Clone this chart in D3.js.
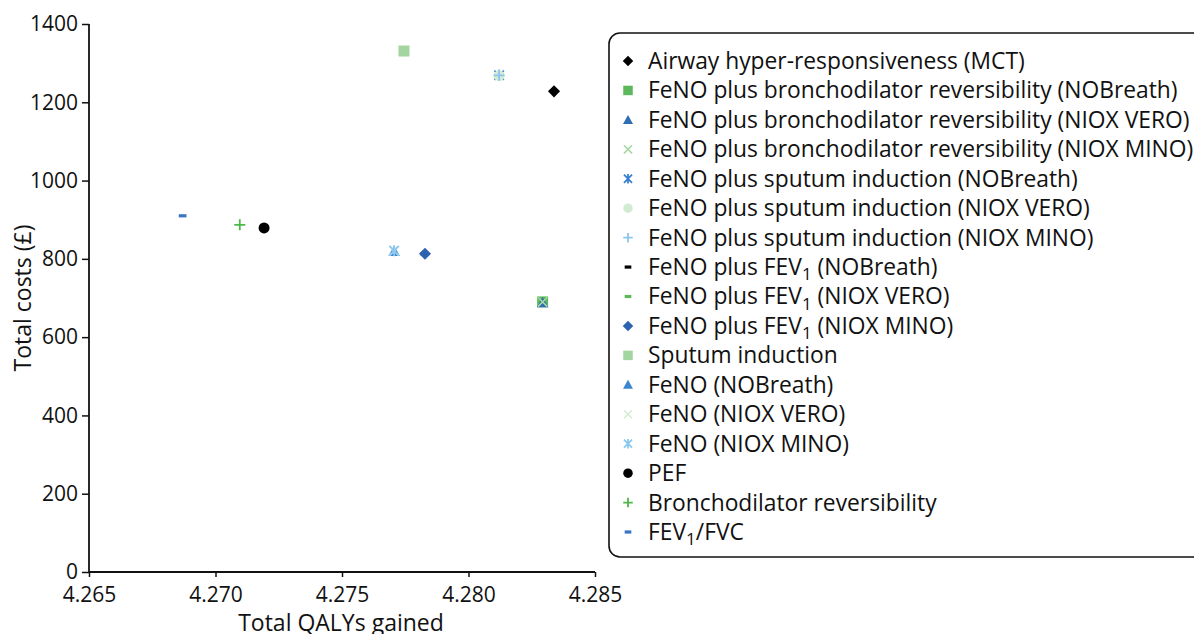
<!DOCTYPE html>
<html>
<head>
<meta charset="utf-8">
<script src="https://cdn.jsdelivr.net/npm/d3@7"></script>
<style>
  html, body { margin: 0; padding: 0; background: #fff; overflow: hidden; }
  svg { display: block; }
  text { font-family: "Open Sans", "Noto Sans", sans-serif; fill: #111; }
</style>
</head>
<body>
<svg id="chart" width="1194" height="634"></svg>
<script>
// Strategy names (a "|1|" segment is a subscript 1, as in FEV1)
const seriesNames = [
  "Airway hyper-responsiveness (MCT)",
  "FeNO plus bronchodilator reversibility (NOBreath)",
  "FeNO plus bronchodilator reversibility (NIOX VERO)",
  "FeNO plus bronchodilator reversibility (NIOX MINO)",
  "FeNO plus sputum induction (NOBreath)",
  "FeNO plus sputum induction (NIOX VERO)",
  "FeNO plus sputum induction (NIOX MINO)",
  "FeNO plus FEV|1| (NOBreath)",
  "FeNO plus FEV|1| (NIOX VERO)",
  "FeNO plus FEV|1| (NIOX MINO)",
  "Sputum induction",
  "FeNO (NOBreath)",
  "FeNO (NIOX VERO)",
  "FeNO (NIOX MINO)",
  "PEF",
  "Bronchodilator reversibility",
  "FEV|1|/FVC"
];

// Total QALYs gained per strategy
const qalys = [
  4.28338, 4.28293, 4.28293, 4.28293,
  4.28121, 4.28121, 4.28121,
  4.27828, 4.27824, 4.27828,
  4.27745,
  4.27706, 4.27706, 4.27706,
  4.27192, 4.27096, 4.26870
];

// Total costs (£) per strategy
const costs = [
  1228, 690, 688, 690,
  1269, 1268, 1269,
  813, 813, 813,
  1331,
  819, 820, 821,
  879, 887, 910
];

// Marker shape and colour per strategy
const markerShapes = [
  "diamond", "square", "triangle", "x",
  "asterisk", "circle", "plus",
  "dash", "dash", "diamond",
  "square",
  "triangle", "x", "asterisk",
  "circle", "plus", "dash"
];
const markerColors = [
  "#000000", "#5cb85a", "#2f6db5", "#a6d7a4",
  "#3a7fcf", "#d3ebd2", "#8cc5ee",
  "#000000", "#5cb85a", "#2d62b0",
  "#a3d5a0",
  "#3b86d2", "#d6edd5", "#8bc8f0",
  "#000000", "#4db848", "#3a74c4"
];

// Axis ticks
const xTicks = [4.265, 4.270, 4.275, 4.280, 4.285];
const yTicks = [0, 200, 400, 600, 800, 1000, 1200, 1400];

const svg = d3.select("#chart");
const plot = { left: 89, right: 595, top: 24, bottom: 572 };

const x = d3.scaleLinear().domain([4.265, 4.285]).range([plot.left, plot.right]);
const y = d3.scaleLinear().domain([0, 1400]).range([plot.bottom, plot.top]);

// Draws one marker centred at the origin of group g; s is the nominal size
function drawMarker(g, shape, color, s) {
  const h = s / 2;
  switch (shape) {
    case "diamond":
      g.append("path").attr("d", `M0,${-h * 1.1}L${h * 1.1},0L0,${h * 1.1}L${-h * 1.1},0Z`).attr("fill", color);
      break;
    case "square":
      g.append("rect").attr("x", -h).attr("y", -h).attr("width", s).attr("height", s).attr("fill", color);
      break;
    case "triangle":
      g.append("path").attr("d", `M0,${-h * 1.05}L${h * 1.05},${h * 0.85}L${-h * 1.05},${h * 0.85}Z`).attr("fill", color);
      break;
    case "circle":
      g.append("circle").attr("r", h).attr("fill", color);
      break;
    case "x":
      g.append("path").attr("d", `M${-h * 0.85},${-h * 0.85}L${h * 0.85},${h * 0.85}M${-h * 0.85},${h * 0.85}L${h * 0.85},${-h * 0.85}`)
        .attr("stroke", color).attr("stroke-width", 1.6).attr("fill", "none");
      break;
    case "asterisk":
      g.append("path").attr("d", `M${-h * 0.85},${-h * 0.85}L${h * 0.85},${h * 0.85}M${-h * 0.85},${h * 0.85}L${h * 0.85},${-h * 0.85}M0,${-h}L0,${h}`)
        .attr("stroke", color).attr("stroke-width", 1.8).attr("fill", "none");
      break;
    case "plus":
      g.append("path").attr("d", `M${-h},0L${h},0M0,${-h}L0,${h}`)
        .attr("stroke", color).attr("stroke-width", 1.8).attr("fill", "none");
      break;
    case "dash":
      g.append("rect").attr("x", -h * 0.7).attr("y", -1.6).attr("width", s * 0.7).attr("height", 3.2).attr("fill", color);
      break;
  }
}

// Writes a label, rendering "|1|" segments as subscripts
function writeLabel(textSel, label) {
  const parts = label.split("|");
  parts.forEach((p, i) => {
    if (!p) return;
    const t = textSel.append("tspan").text(p);
    if (i % 2 === 1) {
      t.attr("font-size", "0.75em").attr("dy", "0.3em");
    } else if (i > 0) {
      t.attr("dy", "-0.225em");
    }
  });
}

// Axes
const yAxis = svg.append("g")
  .attr("transform", `translate(${plot.left},0)`)
  .call(d3.axisLeft(y).tickValues(yTicks).tickSize(7).tickPadding(4).tickFormat(d3.format("d")));
const xAxis = svg.append("g")
  .attr("transform", `translate(0,${plot.bottom})`)
  .call(d3.axisBottom(x).tickValues(xTicks).tickSize(5).tickPadding(10).tickFormat(d3.format(".3f")));

[yAxis, xAxis].forEach(a => {
  a.select(".domain").attr("stroke", "#111").attr("stroke-width", 1.8);
  a.selectAll(".tick line").attr("stroke", "#111").attr("stroke-width", 1.5);
  a.selectAll(".tick text").attr("font-size", 21).attr("fill", "#111")
    .style("font-family", '"Open Sans", "Noto Sans", sans-serif');
});
// axis lines without end caps
yAxis.select(".domain").attr("d", `M0,${plot.top}V${plot.bottom}`);
xAxis.select(".domain").attr("d", `M${plot.left},0H${plot.right}`);

// Axis titles
svg.append("text")
  .attr("transform", `translate(31,298) rotate(-90)`)
  .attr("text-anchor", "middle")
  .attr("font-size", 23)
  .text("Total costs (£)");
svg.append("text")
  .attr("x", 341).attr("y", 631)
  .attr("text-anchor", "middle")
  .attr("font-size", 23)
  .text("Total QALYs gained");

// Points, drawn in series order
const points = svg.append("g");
seriesNames.forEach((name, i) => {
  const g = points.append("g").attr("transform", `translate(${x(qalys[i])},${y(costs[i])})`);
  drawMarker(g, markerShapes[i], markerColors[i], 11);
});

// Legend
const legend = svg.append("g");
legend.append("rect")
  .attr("x", 609).attr("y", 33).attr("width", 640).attr("height", 524)
  .attr("rx", 11).attr("ry", 11)
  .attr("fill", "#fff").attr("stroke", "#111").attr("stroke-width", 1.6);

const rowY = d3.scaleLinear().domain([0, seriesNames.length - 1]).range([61, 532]);
seriesNames.forEach((name, i) => {
  const row = legend.append("g").attr("transform", `translate(0,${rowY(i)})`);
  const m = row.append("g").attr("transform", "translate(628,0)");
  drawMarker(m, markerShapes[i], markerColors[i], 9.5);
  const t = row.append("text")
    .attr("x", 648).attr("y", 0).attr("dy", "0.35em")
    .attr("font-size", 22.8);
  writeLabel(t, name);
});
</script>
</body>
</html>
